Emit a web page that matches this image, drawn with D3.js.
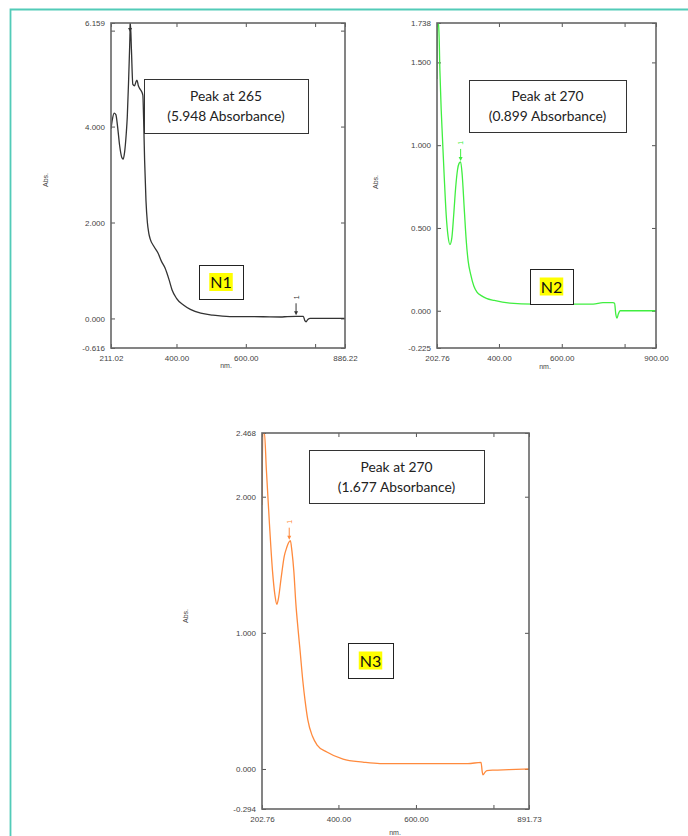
<!DOCTYPE html>
<html>
<head>
<meta charset="utf-8">
<script src="https://cdn.jsdelivr.net/npm/d3@7"></script>
<style>
html, body { margin: 0; padding: 0; background: #fff; }
svg { display: block; }
.tick text { font-family: "Liberation Sans", Arial, sans-serif; font-size: 8px; fill: #444; }
.axis-name { font-family: "Liberation Sans", Arial, sans-serif; font-size: 7px; fill: #444; }
.note { font-family: Lato, "Open Sans", sans-serif; font-size: 13.8px; fill: #222; }
.tag { font-family: Lato, "Open Sans", sans-serif; font-size: 16px; fill: #111; }
</style>
</head>
<body>
<svg id="chart" width="688" height="836"></svg>
<script>
// spectra (wavelength nm / absorbance)
const n1Wl  = [211.02, 215, 220, 225, 230, 236, 242, 246, 250, 255, 258, 262, 265, 267, 270, 274, 279, 283, 286, 290,
               295, 300, 303, 305, 308, 312, 316, 320, 324, 335, 347, 356, 367, 378, 387, 400, 420, 440, 470, 505,
               554, 650, 700, 720, 745, 766, 770, 774, 779, 786, 886.22];
const n1Abs = [3.95, 4.15, 4.28, 4.25, 4.00, 3.60, 3.36, 3.32, 3.45, 3.85, 4.20, 5.00, 5.70, 6.16, 5.60, 4.88, 4.85, 4.93, 4.97, 4.85,
               4.78, 4.72, 4.65, 4.20, 3.30, 2.45, 2.00, 1.78, 1.66, 1.50, 1.36, 1.20, 1.05, 0.82, 0.60, 0.42, 0.28, 0.19, 0.11, 0.07,
               0.04, 0.035, 0.03, 0.04, 0.045, 0.045, -0.04, -0.07, -0.02, 0.0, 0.0];

const n2Wl  = [202.76, 205, 208, 212, 216, 220, 226, 232, 238, 244, 250, 256, 262, 268, 273, 278, 283, 290, 296, 302,
               310, 320, 330, 345, 360, 385, 435, 508, 700, 731, 763, 768, 772, 776, 780, 786, 900];
const n2Abs = [1.40, 1.74, 1.74, 1.45, 1.22, 1.05, 0.80, 0.58, 0.45, 0.40, 0.44, 0.58, 0.74, 0.85, 0.89, 0.899, 0.82, 0.60, 0.42, 0.30,
               0.22, 0.15, 0.113, 0.09, 0.075, 0.062, 0.046, 0.040, 0.040, 0.049, 0.049, 0.045, -0.02, -0.044, -0.02, 0.0, 0.0];

const n3Wl  = [202.76, 205, 209, 214, 222, 230, 236, 241, 245, 252, 260, 267, 271, 276, 280, 285, 290, 296, 301, 308,
               314, 321, 333, 345, 370, 412, 463, 507, 734, 768, 771, 773, 778, 783, 800, 840, 891.73];
const n3Abs = [1.94, 2.47, 2.47, 2.20, 1.80, 1.45, 1.28, 1.21, 1.25, 1.40, 1.56, 1.63, 1.66, 1.677, 1.60, 1.45, 1.22, 1.02, 0.87, 0.65,
               0.50, 0.36, 0.24, 0.176, 0.125, 0.073, 0.051, 0.04, 0.04, 0.048, -0.02, -0.044, -0.025, -0.012, -0.008, -0.005, 0.0];

// axis ranges and tick labels
const n1XTicks = [211.02, 400, 600, 800, 886.22];
const n1YTicks = [-0.616, 0, 2, 4, 6, 6.159];
const n2XTicks = [202.76, 400, 600, 800, 900];
const n2YTicks = [-0.225, 0, 0.5, 1, 1.5, 1.738];
const n3XTicks = [202.76, 400, 600, 800, 891.73];
const n3YTicks = [-0.294, 0, 1, 2, 2.468];
const unlabeledX = [800];
const unlabeledY = [6];

// peak picks (wavelength, absorbance)
const n1Peaks = [[266, 5.948], [745, 0.045]];
const n2Peaks = [[278, 0.899]];
const n3Peaks = [[273, 1.677]];

const sampleNames = ["N1", "N2", "N3"];
const peakTitles = ["Peak at 265", "Peak at 270", "Peak at 270"];
const peakNotes = ["(5.948 Absorbance)", "(0.899 Absorbance)", "(1.677 Absorbance)"];

const svg = d3.select("#chart");

// outer teal frame
svg.append("path")
    .attr("d", "M688,9.5H10.5V836")
    .attr("fill", "none")
    .attr("stroke", "#52cbb8")
    .attr("stroke-width", 1.8);

const panels = [
    { wl: n1Wl, abs: n1Abs, xTicks: n1XTicks, yTicks: n1YTicks, peaks: n1Peaks, color: "#333",
      left: 111, right: 345, top: 23, bottom: 348, absPos: [48, 180], nmPos: [226, 368],
      note: [144, 79, 164, 54], tag: [199, 265, 44, 34] },
    { wl: n2Wl, abs: n2Abs, xTicks: n2XTicks, yTicks: n2YTicks, peaks: n2Peaks, color: "#40ee40",
      left: 437, right: 656, top: 23, bottom: 348, absPos: [378, 182], nmPos: [545, 369],
      note: [469, 80, 157, 52], tag: [530, 269, 43, 35] },
    { wl: n3Wl, abs: n3Abs, xTicks: n3XTicks, yTicks: n3YTicks, peaks: n3Peaks, color: "#ff8a3d",
      left: 262, right: 529, top: 433, bottom: 809, absPos: [188, 616], nmPos: [395, 835],
      note: [309, 450, 175, 53], tag: [348, 643, 45, 35] }
];

function drawPanel(p, i) {
    const g = svg.append("g");
    const x = d3.scaleLinear().domain(d3.extent(p.xTicks)).range([p.left, p.right]);
    const y = d3.scaleLinear().domain(d3.extent(p.yTicks)).range([p.bottom, p.top]);

    const fmtX = v => unlabeledX.includes(v) ? "" : v.toFixed(2);
    const fmtY = v => unlabeledY.includes(v) ? "" : v.toFixed(3);

    g.append("g").attr("transform", `translate(0,${p.bottom})`)
        .call(d3.axisBottom(x).tickValues(p.xTicks).tickFormat(fmtX).tickSizeInner(-4).tickSizeOuter(0).tickPadding(7));
    g.append("g").attr("transform", `translate(0,${p.top})`)
        .call(d3.axisTop(x).tickValues(p.xTicks).tickFormat("").tickSizeInner(-4).tickSizeOuter(0));
    g.append("g").attr("transform", `translate(${p.left},0)`)
        .call(d3.axisLeft(y).tickValues(p.yTicks).tickFormat(fmtY).tickSizeInner(-4).tickSizeOuter(0).tickPadding(6));
    g.append("g").attr("transform", `translate(${p.right},0)`)
        .call(d3.axisRight(y).tickValues(p.yTicks).tickFormat("").tickSizeInner(-4).tickSizeOuter(0));
    g.selectAll(".domain").remove();
    g.selectAll(".tick line").attr("stroke", "#555");

    const clipId = "clip" + i;
    svg.append("clipPath").attr("id", clipId).append("rect")
        .attr("x", p.left).attr("y", p.top)
        .attr("width", p.right - p.left).attr("height", p.bottom - p.top);

    const line = d3.line()
        .x(k => x(p.wl[k]))
        .y(k => y(p.abs[k]))
        .curve(d3.curveMonotoneX);

    g.append("path")
        .attr("clip-path", `url(#${clipId})`)
        .attr("d", line(d3.range(p.wl.length)))
        .attr("fill", "none")
        .attr("stroke", p.color)
        .attr("stroke-width", 1.3);

    // peak pick arrows
    const mk = g.append("g").attr("clip-path", `url(#${clipId})`).attr("fill", p.color).attr("stroke", p.color);
    p.peaks.forEach(pk => {
        const mx = x(pk[0]), my = y(pk[1]);
        mk.append("line").attr("x1", mx).attr("x2", mx).attr("y1", my - 13).attr("y2", my - 4).attr("stroke-width", 1);
        mk.append("path").attr("d", `M${mx - 2},${my - 5}L${mx + 2},${my - 5}L${mx},${my - 1}Z`).attr("stroke", "none");
        mk.append("text")
            .attr("transform", `translate(${mx + 2.5},${my - 19}) rotate(-90)`)
            .attr("text-anchor", "middle")
            .attr("stroke", "none")
            .style("font-family", "Liberation Sans, Arial, sans-serif")
            .style("font-size", "7px")
            .text("1");
    });

    // plot frame
    g.append("rect")
        .attr("x", p.left).attr("y", p.top)
        .attr("width", p.right - p.left).attr("height", p.bottom - p.top)
        .attr("fill", "none").attr("stroke", "#666").attr("stroke-width", 1.6);

    g.append("text").attr("class", "axis-name")
        .attr("transform", `translate(${p.absPos[0]},${p.absPos[1]}) rotate(-90)`)
        .attr("text-anchor", "middle").text("Abs.");
    g.append("text").attr("class", "axis-name")
        .attr("x", p.nmPos[0]).attr("y", p.nmPos[1])
        .attr("text-anchor", "middle").text("nm.");

    // peak note box
    const [nx, ny, nw, nh] = p.note;
    g.append("rect").attr("x", nx + 0.5).attr("y", ny + 0.5).attr("width", nw).attr("height", nh)
        .attr("fill", "#fff").attr("stroke", "#333").attr("stroke-width", 1);
    g.append("text").attr("class", "note").attr("text-anchor", "middle")
        .attr("x", nx + nw / 2).attr("y", ny + nh / 2 - 5).text(peakTitles[i]);
    g.append("text").attr("class", "note").attr("text-anchor", "middle")
        .attr("x", nx + nw / 2).attr("y", ny + nh / 2 + 15).text(peakNotes[i]);

    // sample tag with yellow highlight
    const [tx, ty, tw, th] = p.tag;
    g.append("rect").attr("x", tx + 0.5).attr("y", ty + 0.5).attr("width", tw).attr("height", th)
        .attr("fill", "#fff").attr("stroke", "#222").attr("stroke-width", 1);
    const label = g.append("text").attr("class", "tag").attr("text-anchor", "middle")
        .attr("x", tx + tw / 2).attr("y", ty + th / 2 + 6).text(sampleNames[i]);
    const bb = label.node().getBBox();
    g.insert("rect", "text.tag")
        .attr("x", bb.x - 1).attr("y", bb.y + 1).attr("width", bb.width + 2).attr("height", bb.height - 1)
        .attr("fill", "#ffff00");
}

panels.forEach(drawPanel);
</script>
</body>
</html>
